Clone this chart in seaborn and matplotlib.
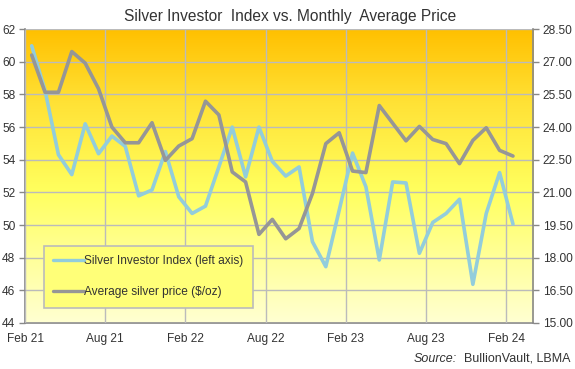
import numpy as np
import pandas as pd
import matplotlib
matplotlib.use("Agg")
import matplotlib.pyplot as plt
from matplotlib.colors import LinearSegmentedColormap
import seaborn as sns

sns.set_theme(style="white")
plt.rcParams['font.family'] = ['Liberation Sans', 'DejaVu Sans']

# Monthly data, Feb 2021 - Feb 2024
months = ["Feb 21", "Mar 21", "Apr 21", "May 21", "Jun 21", "Jul 21", "Aug 21", "Sep 21",
          "Oct 21", "Nov 21", "Dec 21", "Jan 22", "Feb 22", "Mar 22", "Apr 22", "May 22",
          "Jun 22", "Jul 22", "Aug 22", "Sep 22", "Oct 22", "Nov 22", "Dec 22", "Jan 23",
          "Feb 23", "Mar 23", "Apr 23", "May 23", "Jun 23", "Jul 23", "Aug 23", "Sep 23",
          "Oct 23", "Nov 23", "Dec 23", "Jan 24", "Feb 24"]
investor_index = [60.98, 58.24, 54.31, 53.09, 56.2, 54.37, 55.45, 54.82, 51.79, 52.15,
                  54.5, 51.73, 50.71, 51.16, 53.56, 56.0, 52.95, 56.0, 53.9, 53.0,
                  53.56, 48.98, 47.45, 50.9, 54.41, 52.34, 47.86, 52.64, 52.58, 48.27,
                  50.16, 50.71, 51.58, 46.37, 50.71, 53.21, 50.06]
silver_price = [27.31, 25.6, 25.6, 27.47, 26.94, 25.76, 24.0, 23.28, 23.28, 24.2,
                22.47, 23.13, 23.47, 25.19, 24.56, 21.94, 21.48, 19.07, 19.76, 18.87,
                19.34, 20.95, 23.24, 23.74, 21.98, 21.91, 24.99, 24.18, 23.37, 24.03,
                23.43, 23.24, 22.32, 23.39, 23.97, 22.93, 22.67]
tick_labels = ["Feb 21", "Aug 21", "Feb 22", "Aug 22", "Feb 23", "Aug 23", "Feb 24"]

df = pd.DataFrame({"month": months, "index": investor_index, "price": silver_price})
df["pos"] = np.arange(len(df)) + 0.5  # points sit mid-month

text_col = "#333333"
grid_col = "#BBBBBB"
spine_col = "#888888"

fig = plt.figure(figsize=(5.75, 3.69), dpi=100)
ax = fig.add_axes([0.0435, 0.1247, 0.8835, 0.7963])

# gradient background: orange at top to pale yellow at bottom
cmap = LinearSegmentedColormap.from_list(
    "bg", [(0.0, "#FFFFD2"), (0.45, "#FFFF5E"), (0.75, "#FFE236"), (1.0, "#FFC000")])
grad = np.linspace(0, 1, 256).reshape(-1, 1)
ax.imshow(grad, cmap=cmap, origin="lower", aspect="auto",
          extent=[0, 1, 0, 1], transform=ax.transAxes, zorder=0)

ax2 = ax.twinx()

sns.lineplot(data=df, x="pos", y="index", ax=ax, color="#92CDDC", linewidth=2.6,
             label="Silver Investor Index (left axis)", legend=False, zorder=3)
sns.lineplot(data=df, x="pos", y="price", ax=ax2, color="#969696", linewidth=2.6,
             label="Average silver price ($/oz)", legend=False, zorder=3)

ax.set_xlim(0, 38)
ax.set_ylim(44, 62)
ax2.set_ylim(15, 28.5)
ax.set_yticks(np.arange(44, 63, 2))
ax2.set_yticks(np.arange(15, 28.6, 1.5))
ax2.set_yticklabels([f"{v:.2f}" for v in np.arange(15, 28.6, 1.5)])
ax.set_xticks([0, 6, 12, 18, 24, 30, 36])
ax.set_xticklabels(tick_labels)
ax.set_xlabel("")
ax.set_ylabel("")
ax2.set_ylabel("")

ax.grid(True, color=grid_col, linewidth=1.0, zorder=1)
ax.set_axisbelow(False)
for gl in ax.get_xgridlines() + ax.get_ygridlines():
    gl.set_zorder(1)

for a in (ax, ax2):
    a.tick_params(axis="both", colors=text_col, labelsize=8.6, length=4, width=1,
                  direction="out", pad=3)
    for s in a.spines.values():
        s.set_visible(False)
ax.tick_params(axis="both", color=spine_col)
ax2.tick_params(axis="y", color=spine_col)
ax.spines["left"].set_visible(True)
ax.spines["bottom"].set_visible(True)
ax2.spines["right"].set_visible(True)
for s in (ax.spines["left"], ax.spines["bottom"], ax2.spines["right"]):
    s.set_color(spine_col)
    s.set_linewidth(1.2)

fig.text(0.505, 0.955, "Silver Investor  Index vs. Monthly  Average Price",
         ha="center", va="center", fontsize=11.2, color=text_col)

# combined legend for both axes
h1, l1 = ax.get_legend_handles_labels()
h2, l2 = ax2.get_legend_handles_labels()
leg = ax2.legend(h1 + h2, l1 + l2, loc="lower left", bbox_to_anchor=(0.037, 0.051),
                 borderaxespad=0, fontsize=8.6, frameon=True, fancybox=False,
                 handlelength=2.6, handletextpad=0.0, labelspacing=1.6, borderpad=0.8,
                 labelcolor=text_col)
leg.get_frame().set_facecolor("#FFFF78")
leg.get_frame().set_edgecolor("#BBBBBB")
leg.get_frame().set_linewidth(1.2)
leg.get_frame().set_alpha(1)
for line in leg.get_lines():
    line.set_linewidth(2.4)

# source note: italic "Source:" followed by plain text
src = fig.text(0.992, 0.028, "  BullionVault, LBMA", ha="right", va="center",
               fontsize=9, color=text_col)
fig.canvas.draw()
bb = src.get_window_extent()
fig.text(bb.x0 / fig.bbox.width, 0.028, "Source:", ha="right", va="center",
         fontsize=9, color=text_col, style="italic")

fig.savefig("out.png", dpi=100, facecolor="white")
